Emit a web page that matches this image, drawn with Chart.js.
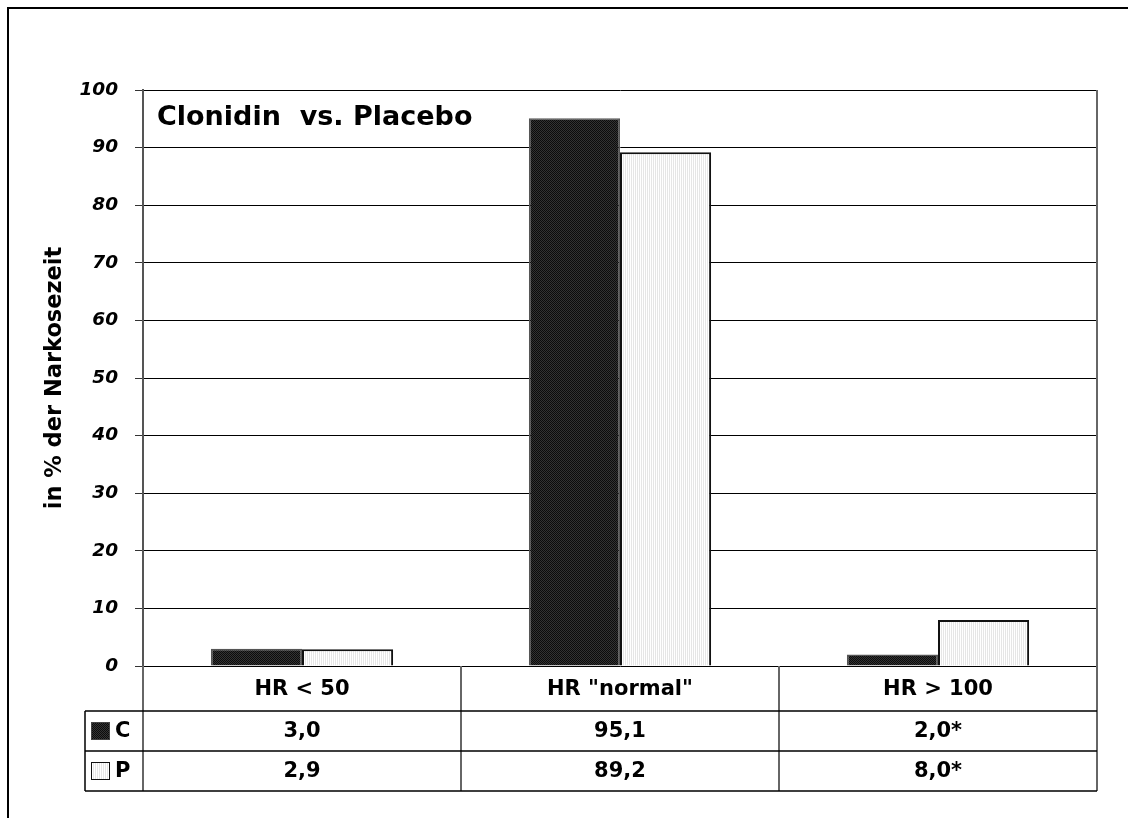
<!DOCTYPE html>
<html>
<head>
<meta charset="utf-8">
<script src="https://cdn.jsdelivr.net/npm/chart.js@4/dist/chart.umd.min.js"></script>
<style>
  html, body { margin: 0; padding: 0; background: #fff; }
  canvas { display: block; }
</style>
</head>
<body>
<canvas id="c" width="1128" height="818"></canvas>
<script>
// Heart-rate categories and share of anaesthesia time (%)
const categories = ['HR < 50', 'HR "normal"', 'HR > 100'];
const clonidinValues = [3.0, 95.1, 2.0];
const placeboValues = [2.9, 89.2, 8.0];
const significance = ['', '', '*'];
const seriesKeys = ['C', 'P'];
const yTicks = [0, 10, 20, 30, 40, 50, 60, 70, 80, 90, 100];
const chartTitle = 'Clonidin  vs. Placebo';
const yAxisTitle = 'in % der Narkosezeit';

const FONT = 'DejaVu Sans';

function makePattern(cells, w, h) {
  const pc = document.createElement('canvas');
  pc.width = w; pc.height = h;
  const g = pc.getContext('2d');
  for (let y = 0; y < h; y++) {
    for (let x = 0; x < w; x++) {
      g.fillStyle = cells[y][x];
      g.fillRect(x, y, 1, 1);
    }
  }
  return g.createPattern(pc, 'repeat');
}
const darkFill = makePattern([['#0c0c0c', '#333'], ['#333', '#0c0c0c']], 2, 2);
const lightFill = makePattern([['#ffffff', '#e6e6e6']], 2, 1);

const fmt = v => v.toFixed(1).replace('.', ',');

// Frame, in-plot title, plot border and the data table under the axis
const decorations = {
  id: 'decorations',
  afterDraw(chart) {
    const { ctx, chartArea: a, scales: { x } } = chart;
    ctx.save();

    // outer frame
    ctx.strokeStyle = '#000';
    ctx.lineWidth = 2;
    ctx.beginPath();
    ctx.moveTo(8, 830); ctx.lineTo(8, 8); ctx.lineTo(1140, 8);
    ctx.stroke();

    // title inside the plot
    ctx.fillStyle = '#000';
    ctx.font = 'bold 27px "' + FONT + '"';
    ctx.textAlign = 'left';
    ctx.textBaseline = 'alphabetic';
    ctx.fillText(chartTitle, a.left + 14, a.top + 35);

    const headerH = 45, rowH = 40;
    const top = a.bottom;
    const r1 = top + headerH, r2 = r1 + rowH, r3 = r2 + rowH;
    const tableLeft = 85;

    const step = x.getPixelForValue(1) - x.getPixelForValue(0);
    const bounds = categories.map((_, i) => x.getPixelForValue(i) + step / 2);

    // column dividers and plot right border
    ctx.strokeStyle = '#666';
    ctx.lineWidth = 2;
    ctx.beginPath();
    ctx.moveTo(a.left, top); ctx.lineTo(a.left, r3);
    bounds.slice(0, -1).forEach(bx => { ctx.moveTo(Math.round(bx), top); ctx.lineTo(Math.round(bx), r3); });
    ctx.moveTo(a.right, a.top); ctx.lineTo(a.right, r3);
    ctx.stroke();

    // horizontal table rules
    ctx.strokeStyle = '#000';
    ctx.lineWidth = 1.5;
    ctx.beginPath();
    [r1, r2, r3].forEach(y => { ctx.moveTo(tableLeft, y); ctx.lineTo(a.right, y); });
    ctx.moveTo(tableLeft, r1); ctx.lineTo(tableLeft, r3);
    ctx.stroke();

    // texts
    ctx.font = 'bold 21px "' + FONT + '"';
    ctx.textAlign = 'center';
    ctx.textBaseline = 'middle';
    ctx.fillStyle = '#000';
    categories.forEach((c, i) => {
      const cx = x.getPixelForValue(i);
      ctx.fillText(c, cx, top + headerH / 2 + 1);
      ctx.fillText(fmt(clonidinValues[i]) + significance[i], cx, r1 + rowH / 2 + 1);
      ctx.fillText(fmt(placeboValues[i]) + significance[i], cx, r2 + rowH / 2 + 1);
    });

    // legend keys in the table
    const keys = [
      { y: r1, fill: darkFill, stroke: '#444', label: seriesKeys[0] },
      { y: r2, fill: lightFill, stroke: '#111', label: seriesKeys[1] }
    ];
    keys.forEach(k => {
      const sy = k.y + 11;
      ctx.fillStyle = k.fill;
      ctx.fillRect(91, sy, 19, 18);
      ctx.strokeStyle = k.stroke;
      ctx.lineWidth = 1;
      ctx.strokeRect(91.5, sy + 0.5, 18, 17);
      ctx.fillStyle = '#000';
      ctx.textAlign = 'left';
      ctx.fillText(k.label, 115, k.y + rowH / 2 + 1);
    });

    ctx.restore();
  }
};

new Chart(document.getElementById('c'), {
  type: 'bar',
  data: {
    labels: categories,
    datasets: [
      {
        label: seriesKeys[0],
        data: clonidinValues,
        backgroundColor: darkFill,
        borderColor: '#555',
        borderWidth: 1.5,
        borderSkipped: 'bottom'
      },
      {
        label: seriesKeys[1],
        data: placeboValues,
        backgroundColor: lightFill,
        borderColor: '#111',
        borderWidth: 2,
        borderSkipped: 'bottom'
      }
    ]
  },
  options: {
    responsive: false,
    animation: false,
    devicePixelRatio: 1,
    layout: { padding: { left: 7, top: 90, right: 31, bottom: 152 } },
    datasets: { bar: { categoryPercentage: 0.573, barPercentage: 1.0 } },
    plugins: { legend: { display: false }, tooltip: { enabled: false } },
    scales: {
      x: { display: false },
      y: {
        min: 0,
        max: 100,
        afterFit(scale) { scale.width = 136; },
        afterBuildTicks(scale) { scale.ticks = yTicks.map(v => ({ value: v })); },
        ticks: {
          color: '#000',
          padding: 17,
          font: { family: FONT, size: 18.5, style: 'italic', weight: 'bold' }
        },
        grid: { color: '#000', lineWidth: 1, tickLength: 8, tickColor: '#333' },
        border: { color: '#555', width: 2 },
        title: {
          display: true,
          text: yAxisTitle,
          color: '#000',
          padding: { top: 35, bottom: 0 },
          font: { family: FONT, size: 22.5, weight: 'bold' }
        }
      }
    }
  },
  plugins: [decorations]
});
</script>
</body>
</html>
